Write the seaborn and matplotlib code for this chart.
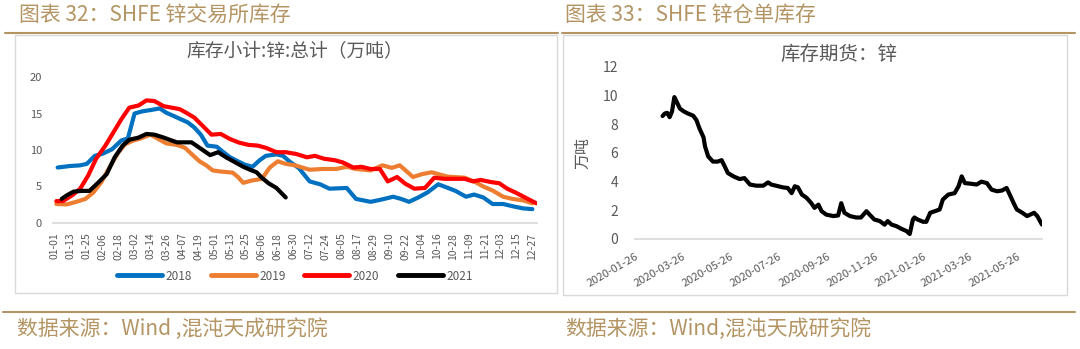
import numpy as np
import pandas as pd
import matplotlib
matplotlib.use("Agg")
import matplotlib.pyplot as plt
import seaborn as sns
from matplotlib.lines import Line2D
from matplotlib.patches import Rectangle

# ---------------- data ----------------
# Left chart: SHFE zinc exchange inventory (10k tonnes) by day-of-year
day_2018 = [2, 11, 19, 24, 30, 36, 43, 50, 55, 60, 66, 73, 79, 84, 89, 95, 100, 105, 110, 115,
            122, 127, 132, 138, 143, 149, 154, 159, 167, 172, 177, 184, 192, 200, 207, 220, 227,
            238, 246, 255, 261, 267, 274, 281, 289, 295, 302, 310, 316, 323, 330, 338, 345, 353, 360]
inv_2018 = [7.6, 7.8, 7.9, 8.1, 9.2, 9.5, 10.1, 11.3, 11.6, 15.0, 15.3, 15.5, 15.7, 15.1, 14.7, 14.2,
            13.8, 13.1, 12.1, 10.6, 10.45, 9.7, 9.0, 8.45, 8.0, 7.7, 8.55, 9.2, 9.4, 9.2, 8.4, 7.5,
            5.7, 5.3, 4.7, 4.8, 3.3, 2.9, 3.2, 3.6, 3.3, 2.9, 3.5, 4.2, 5.3, 4.9, 4.4, 3.6, 3.9,
            3.5, 2.6, 2.6, 2.3, 2.0, 1.9]

day_2019 = [1, 9, 16, 23, 29, 35, 41, 48, 53, 59, 65, 72, 78, 84, 92, 98, 103, 109, 114, 119, 125,
            134, 138, 142, 148, 156, 162, 168, 174, 181, 192, 202, 212, 220, 227, 238, 247, 254,
            260, 270, 277, 284, 289, 296, 309, 316, 323, 330, 338, 345, 353, 360]
inv_2019 = [2.6, 2.55, 2.9, 3.3, 4.2, 5.6, 7.6, 9.7, 10.8, 11.3, 11.6, 12.1, 11.5, 10.9, 10.7, 10.3,
            9.45, 8.45, 7.9, 7.2, 7.05, 6.9, 6.3, 5.5, 5.8, 6.05, 7.6, 8.45, 8.1, 7.9, 7.3, 7.4,
            7.4, 7.7, 7.4, 7.2, 7.9, 7.55, 7.9, 6.3, 6.7, 6.95, 6.7, 6.35, 6.2, 5.7, 5.0, 4.45,
            3.6, 3.3, 3.1, 2.7]

day_2020 = [1, 6, 13, 19, 25, 31, 38, 44, 50, 56, 63, 69, 75, 82, 88, 94, 99, 105, 112, 118, 125,
            132, 139, 146, 153, 159, 167, 174, 182, 190, 196, 203, 211, 217, 225, 231, 238, 245,
            251, 258, 264, 271, 279, 286, 294, 302, 309, 315, 321, 329, 335, 341, 347, 355, 363]
inv_2020 = [3.0, 3.0, 3.8, 4.7, 6.5, 8.8, 10.6, 12.4, 14.2, 15.8, 16.1, 16.8, 16.7, 16.0, 15.8,
            15.6, 15.1, 14.45, 13.2, 12.1, 12.2, 11.5, 11.0, 10.7, 10.6, 10.3, 9.7, 9.7, 9.45,
            9.0, 9.2, 8.8, 8.6, 8.3, 7.6, 7.7, 7.4, 7.4, 5.7, 6.3, 5.4, 4.7, 4.8, 6.2, 6.05,
            6.05, 6.05, 5.7, 5.9, 5.6, 5.45, 4.7, 4.2, 3.45, 2.7]

day_2021 = [5, 9, 14, 20, 26, 33, 39, 45, 51, 56, 63, 69, 75, 82, 88, 92, 98, 103, 109, 117, 123,
            129, 136, 142, 147, 152, 156, 161, 167, 174]
inv_2021 = [3.3, 3.8, 4.3, 4.4, 4.4, 5.6, 6.7, 9.0, 10.6, 11.4, 11.7, 12.2, 12.1, 11.7, 11.3,
            11.05, 11.05, 11.05, 10.3, 9.3, 9.7, 9.0, 8.3, 7.7, 7.3, 6.95, 6.2, 5.45, 4.8, 3.5]

left_tick_labels = ['01-01', '01-13', '01-25', '02-06', '02-18', '03-02', '03-14', '03-26',
                    '04-07', '04-19', '05-01', '05-13', '05-25', '06-06', '06-18', '06-30',
                    '07-12', '07-24', '08-05', '08-17', '08-29', '09-10', '09-22', '10-04',
                    '10-16', '10-28', '11-09', '11-21', '12-03', '12-15', '12-27']
series_names = ['2018', '2019', '2020', '2021']
series_colors = ['#0070C0', '#ED7D31', '#FF0000', '#000000']

# Right chart: SHFE zinc warrant inventory (10k tonnes)
warrant_dates = [
    '2020-03-01', '2020-03-04', '2020-03-07', '2020-03-10', '2020-03-13', '2020-03-16',
    '2020-03-19', '2020-03-23', '2020-03-28', '2020-04-02', '2020-04-09', '2020-04-13',
    '2020-04-17', '2020-04-22', '2020-04-24', '2020-04-28', '2020-05-04', '2020-05-10',
    '2020-05-15', '2020-05-19', '2020-05-23', '2020-05-30', '2020-06-07', '2020-06-13',
    '2020-06-20', '2020-06-28', '2020-07-07', '2020-07-13', '2020-07-17', '2020-07-26',
    '2020-08-01', '2020-08-07', '2020-08-12', '2020-08-16', '2020-08-20', '2020-08-25',
    '2020-08-31', '2020-09-06', '2020-09-10', '2020-09-15', '2020-09-19', '2020-09-25',
    '2020-10-04', '2020-10-10', '2020-10-14', '2020-10-18', '2020-10-25', '2020-11-02',
    '2020-11-08', '2020-11-15', '2020-11-19', '2020-11-25', '2020-12-02', '2020-12-08',
    '2020-12-12', '2020-12-17', '2020-12-23', '2020-12-29', '2021-01-05', '2021-01-09',
    '2021-01-13', '2021-01-15', '2021-01-19', '2021-01-26', '2021-01-30', '2021-02-04',
    '2021-02-10', '2021-02-16', '2021-02-20', '2021-02-27', '2021-03-07', '2021-03-12',
    '2021-03-16', '2021-03-20', '2021-03-27', '2021-04-04', '2021-04-10', '2021-04-17',
    '2021-04-23', '2021-04-30', '2021-05-06', '2021-05-12', '2021-05-16', '2021-05-21',
    '2021-05-25', '2021-06-01', '2021-06-07', '2021-06-11', '2021-06-16', '2021-06-20',
    '2021-06-24', '2021-06-26']
warrant_vals = [
    8.58, 8.76, 8.8, 8.5, 8.9, 9.9, 9.57, 9.1, 8.9, 8.76, 8.6, 8.3,
    7.7, 7.1, 6.45, 5.76, 5.4, 5.4, 5.5, 5.06, 4.6, 4.37, 4.18, 4.25,
    3.8, 3.72, 3.72, 3.95, 3.8, 3.68, 3.6, 3.56, 3.2, 3.68, 3.6, 3.1,
    2.87, 2.5, 2.17, 2.4, 1.94, 1.7, 1.6, 1.64, 2.5, 1.83, 1.6, 1.5,
    1.5, 1.94, 1.7, 1.36, 1.25, 1.0, 1.25, 1.0, 0.9, 0.72, 0.55, 0.35,
    1.36, 1.5, 1.36, 1.2, 1.2, 1.83, 1.94, 2.06, 2.75, 3.1, 3.2, 3.68,
    4.37, 3.9, 3.86, 3.8, 4.0, 3.9, 3.44, 3.33, 3.38, 3.56, 3.1, 2.5,
    2.06, 1.83, 1.6, 1.7, 1.83, 1.6, 1.2, 1.0]
right_tick_dates = ['2020-01-26', '2020-03-26', '2020-05-26', '2020-07-26', '2020-09-26',
                    '2020-11-26', '2021-01-26', '2021-03-26', '2021-05-26']

# ---------------- style ----------------
sns.set_style('white')
plt.rcParams['font.family'] = ['Noto Sans CJK SC', 'DejaVu Sans']
plt.rcParams['axes.unicode_minus'] = False

W, H = 1080, 349
fig = plt.figure(figsize=(W / 100, H / 100), dpi=100)
fig.patch.set_facecolor('white')

def fx(x):
    return x / W

def fy(y):
    return 1 - y / H

TAN = '#b39462'
GRAY_TXT = '#595959'
AX_GRAY = '#d9d9d9'

# header / footer text and rules
fig.text(fx(19), fy(15), '图表 32：SHFE 锌交易所库存', color=TAN, fontsize=15,
         ha='left', va='center')
fig.text(fx(565), fy(15), '图表 33：SHFE 锌仓单库存', color=TAN, fontsize=15,
         ha='left', va='center')
fig.add_artist(Line2D([fx(5), fx(558)], [fy(32.5), fy(32.5)], color=TAN, lw=1.5))
fig.add_artist(Line2D([fx(562), fx(1075)], [fy(32.5), fy(32.5)], color=TAN, lw=1.5))
fig.add_artist(Line2D([fx(3), fx(1075)], [fy(312), fy(312)], color=TAN, lw=1.5))
fig.text(fx(17), fy(329), '数据来源：Wind ,混沌天成研究院', color=TAN, fontsize=15,
         ha='left', va='center')
fig.text(fx(565), fy(329), '数据来源：Wind,混沌天成研究院', color=TAN, fontsize=15,
         ha='left', va='center')

# panel boxes
fig.add_artist(Rectangle((fx(15), fy(293)), fx(557) - fx(15), fy(35) - fy(293),
                         fill=False, edgecolor=AX_GRAY, lw=1))
fig.add_artist(Rectangle((fx(563), fy(295)), fx(1067) - fx(563), fy(35) - fy(295),
                         fill=False, edgecolor=AX_GRAY, lw=1))

# ---------------- left chart ----------------
ax1 = fig.add_axes([fx(53), fy(223), fx(537) - fx(53), fy(77) - fy(223)])
days_list = [day_2018, day_2019, day_2020, day_2021]
inv_list = [inv_2018, inv_2019, inv_2020, inv_2021]
for name, d, v, c in zip(series_names, days_list, inv_list, series_colors):
    df = pd.DataFrame({'day': d, 'inv': v})
    sns.lineplot(data=df, x='day', y='inv', ax=ax1, color=c, lw=3, label=name,
                 sort=False, estimator=None)

tick_pos = [(pd.Timestamp('2019-' + s) - pd.Timestamp('2019-01-01')).days for s in left_tick_labels]
ax1.set_xticks(tick_pos)
ax1.set_xticklabels(left_tick_labels, rotation=90, fontsize=7.5, color=GRAY_TXT)
ax1.set_xlim(-1.5, 363.5)
ax1.set_ylim(0, 20)
ax1.set_yticks([0, 5, 10, 15, 20])
ax1.tick_params(axis='y', labelsize=8, colors=GRAY_TXT, length=0, pad=8)
ax1.tick_params(axis='x', length=0, pad=7)
for s in ['top', 'right', 'left']:
    ax1.spines[s].set_visible(False)
ax1.spines['bottom'].set_color(AX_GRAY)
ax1.spines['bottom'].set_linewidth(1.2)
ax1.set_xlabel('')
ax1.set_ylabel('')
ax1.set_facecolor('none')
ax1.grid(False)
ax1.set_title('库存小计:锌:总计（万吨）', fontsize=13.5, color=GRAY_TXT, pad=15)
handles = [Line2D([0], [0], color=c, lw=3.5) for c in series_colors]
leg = ax1.legend(handles, series_names, loc='center', bbox_to_anchor=(0.5, (276 - 223) / -146.0),
                 ncol=4, frameon=False, fontsize=8.5, handlelength=3.8, handletextpad=0.3,
                 columnspacing=1.6, labelcolor=GRAY_TXT)

# ---------------- right chart ----------------
ax2 = fig.add_axes([fx(635), fy(239), fx(1042) - fx(635), fy(67) - fy(239)])
dfw = pd.DataFrame({'date': pd.to_datetime(warrant_dates), 'val': warrant_vals})
sns.lineplot(data=dfw, x='date', y='val', ax=ax2, color='black', lw=3,
             sort=False, estimator=None)
tick_dt = pd.to_datetime(right_tick_dates)
ax2.set_xticks(tick_dt)
ax2.set_xticklabels(right_tick_dates, rotation=30, ha='right', rotation_mode='anchor',
                    fontsize=8, color=GRAY_TXT)
ax2.set_xlim(pd.Timestamp('2020-01-26'), pd.Timestamp('2021-06-26'))
ax2.set_ylim(0, 12)
ax2.set_yticks([0, 2, 4, 6, 8, 10, 12])
ax2.tick_params(axis='y', labelsize=10, colors=GRAY_TXT, length=0, pad=12)
ax2.tick_params(axis='x', length=4, width=0.8, color=AX_GRAY, direction='out', pad=5)
for s in ['top', 'right', 'left']:
    ax2.spines[s].set_visible(False)
ax2.spines['bottom'].set_color(AX_GRAY)
ax2.spines['bottom'].set_linewidth(1.2)
ax2.set_xlabel('')
ax2.set_ylabel('万吨', fontsize=11.5, color=GRAY_TXT, labelpad=8)
ax2.set_facecolor('none')
ax2.grid(False)
ax2.set_title('库存期货：锌', fontsize=14, color=GRAY_TXT, pad=5)

fig.savefig('out.png', dpi=100, facecolor='white')
